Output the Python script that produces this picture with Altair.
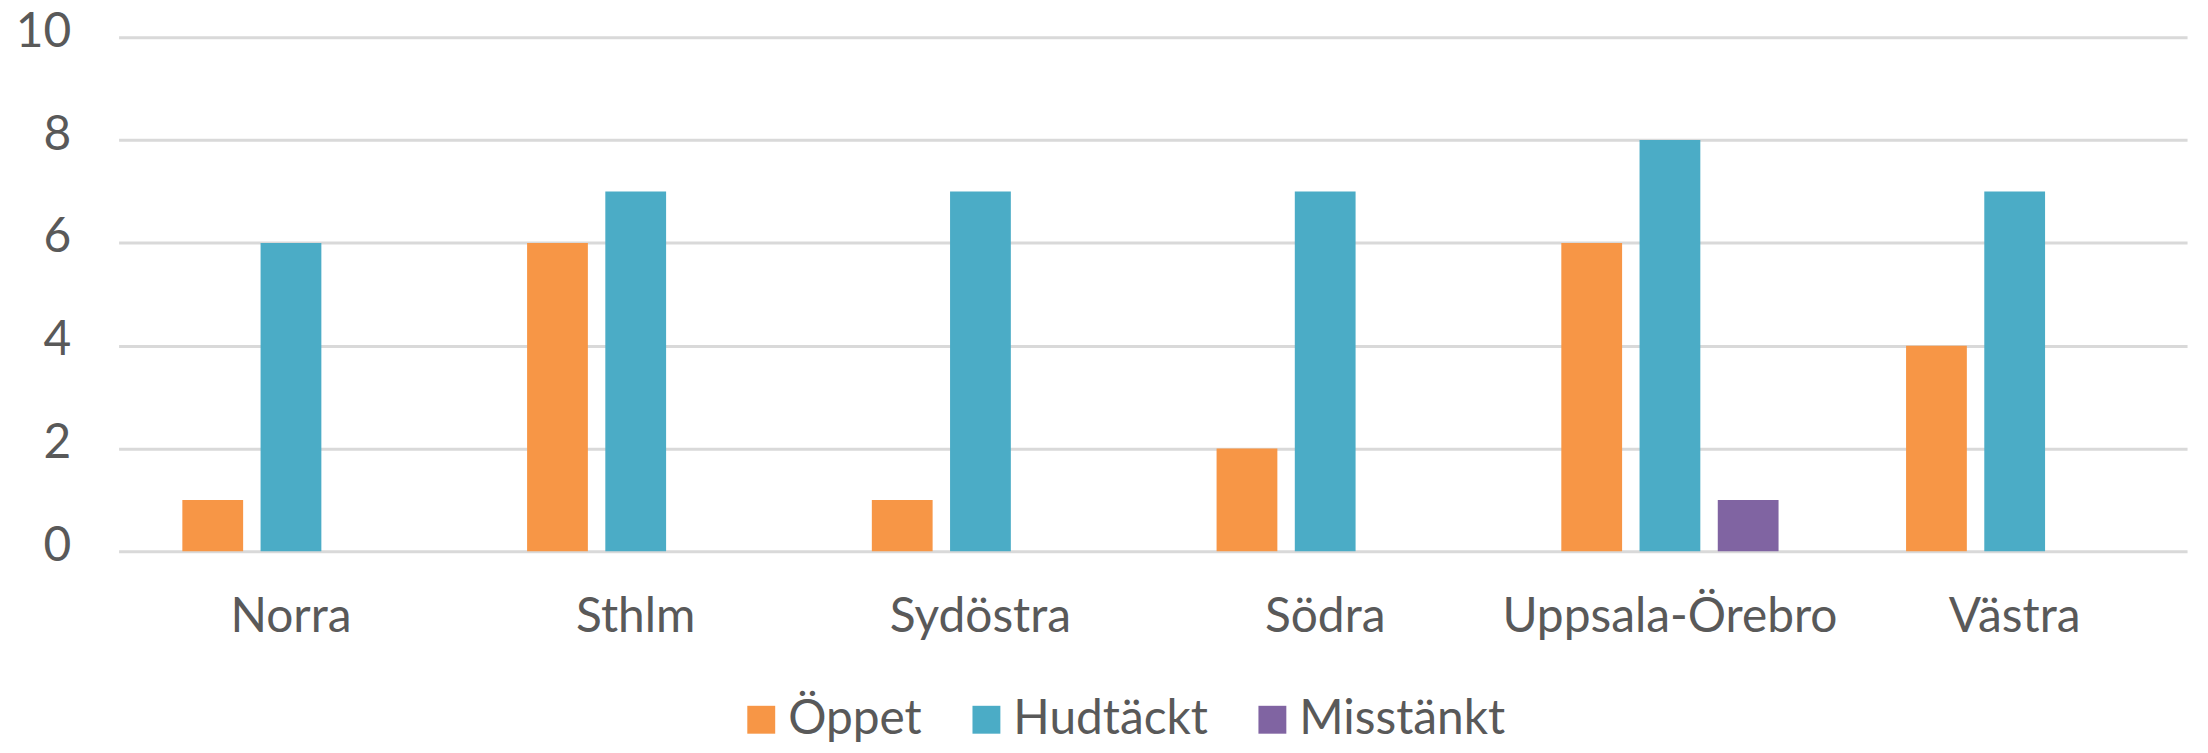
import altair as alt
import pandas as pd

regions = ["Norra", "Sthlm", "Sydöstra", "Södra", "Uppsala-Örebro", "Västra"]
series = ["Öppet", "Hudtäckt", "Misstänkt"]
oppet = [1, 6, 1, 2, 6, 4]
hudtackt = [6, 7, 7, 7, 8, 7]
misstankt = [0, 0, 0, 0, 1, 0]
colors = ["#F79646", "#4BACC6", "#8064A2"]
y_ticks = [0, 2, 4, 6, 8, 10]

rows = []
for i, r in enumerate(regions):
    for s, vals in zip(series, [oppet, hudtackt, misstankt]):
        rows.append({"Region": r, "Serie": s, "Antal": vals[i]})
df = pd.DataFrame(rows)

FONT = "Lato"
TXT = "#595959"

chart = alt.Chart(df).mark_bar().encode(
    x=alt.X(
        "Region:N", sort=regions,
        scale=alt.Scale(paddingInner=0, paddingOuter=0),
        axis=alt.Axis(title=None, labelAngle=0, labelFont=FONT, labelFontSize=48,
                      labelColor=TXT, labelPadding=42, ticks=False, tickSize=0,
                      domain=False, grid=False, labelLimit=500),
    ),
    xOffset=alt.XOffset(
        "Serie:N", sort=series,
        scale=alt.Scale(paddingInner=0.223, paddingOuter=0.815),
    ),
    y=alt.Y(
        "Antal:Q",
        scale=alt.Scale(domain=[0, 10], nice=False),
        axis=alt.Axis(title=None, values=y_ticks, labelFont=FONT, labelFontSize=48,
                      labelColor=TXT, grid=True, gridColor="#D9D9D9", gridWidth=3,
                      domain=False, ticks=False, tickSize=0, labelPadding=48,
                      labelOffset=-5),
    ),
    color=alt.Color(
        "Serie:N", sort=series,
        scale=alt.Scale(domain=series, range=colors),
        legend=alt.Legend(title=None, orient="none", direction="horizontal",
                          legendX=621, legendY=661, symbolType="square",
                          symbolSize=784, symbolStrokeWidth=0, symbolOpacity=1,
                          labelFont=FONT, labelFontSize=48, labelColor=TXT,
                          labelOffset=3, columnPadding=40, padding=0,
                          labelLimit=500),
    ),
).properties(
    width=2076, height=516,
    padding={"left": 111, "top": 28, "right": 13, "bottom": 193},
    autosize=alt.AutoSizeParams(type="none"),
).configure_view(stroke=None)

chart.save("out.html", embed_options={"renderer": "svg", "actions": False})
